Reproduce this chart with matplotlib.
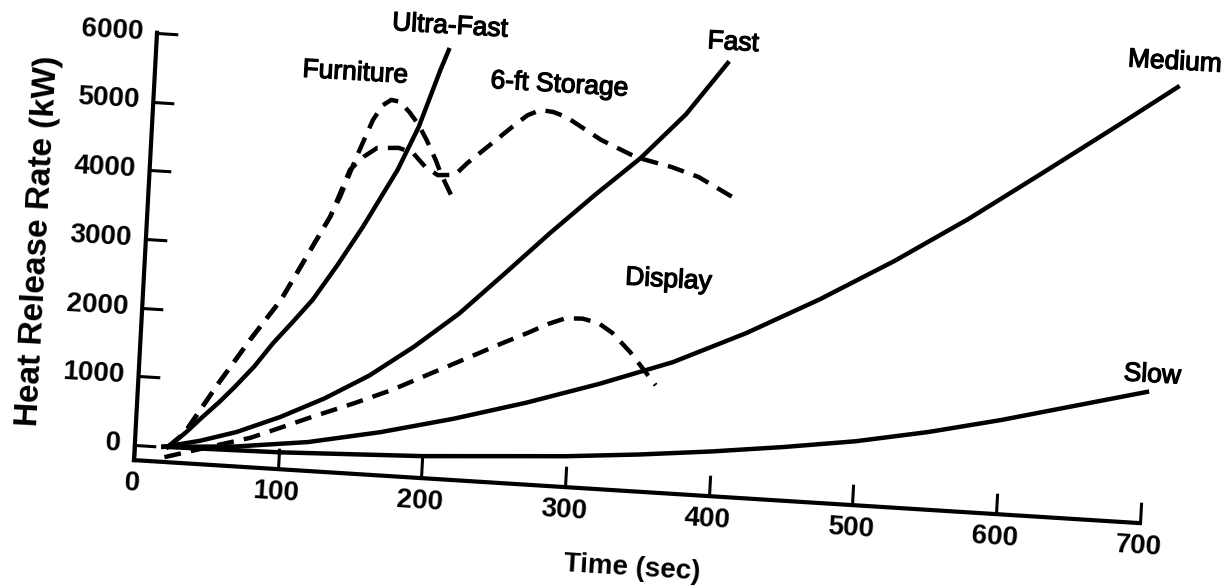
import numpy as np
import matplotlib
matplotlib.use("Agg")
import matplotlib.pyplot as plt
import matplotlib.patheffects as pe
from matplotlib.transforms import Affine2D
from mpl_toolkits.axisartist import floating_axes
from mpl_toolkits.axisartist.grid_finder import FixedLocator, DictFormatter

plt.rcParams['font.family'] = ['Liberation Sans', 'DejaVu Sans']

# t-squared design fires (solid lines)
ultra_t = [23, 35, 46, 57, 67, 80, 92, 105, 118, 134, 150, 161, 172, 185, 198, 203]
ultra_q = [0, 230, 470, 700, 930, 1250, 1600, 1930, 2270, 2800, 3370, 3800, 4230, 4870, 5720, 6015]
fast_t = [20, 45, 70, 100, 130, 160, 190, 220, 250, 280, 310, 340, 370, 397]
fast_q = [0, 120, 280, 540, 850, 1220, 1680, 2200, 2820, 3450, 4050, 4620, 5300, 6080]
medium_t = [20, 70, 120, 170, 220, 270, 320, 370, 420, 470, 520, 570, 620, 670, 710]
medium_q = [0, 70, 200, 410, 670, 970, 1310, 1690, 2180, 2740, 3360, 4040, 4780, 5530, 6140]
slow_t = [20, 100, 200, 300, 350, 400, 450, 500, 550, 600, 650, 700]
slow_q = [0, 25, 100, 230, 320, 430, 560, 710, 910, 1150, 1420, 1690]

# measured fuel packages (dashed lines)
furniture_t = [23, 34, 56, 76, 96, 127, 133, 143, 153, 159, 165, 171, 178, 185, 191, 198, 202, 208, 213]
furniture_q = [0, 220, 980, 1630, 2240, 3490, 3780, 4380, 4930, 5150, 5240, 5220, 5080, 4900, 4690,
               4410, 4220, 3990, 3800]
storage_t = [23, 34, 56, 76, 96, 127, 139, 148, 157, 172, 182, 191, 200, 212, 220, 239, 250, 260,
             269, 278, 287, 312, 337, 362, 381, 409]
storage_q = [0, 220, 980, 1630, 2240, 3490, 4190, 4390, 4530, 4550, 4490, 4300, 4190, 4210, 4390,
             4750, 4960, 5140, 5230, 5210, 5150, 4850, 4630, 4520, 4400, 4100]
display_t = [21, 42, 60, 80, 100, 122, 150, 176, 200, 229, 250, 268, 282, 294, 306, 317, 327, 340, 359]
display_q = [-150, -20, 90, 210, 380, 570, 800, 1030, 1280, 1580, 1800, 1980, 2130, 2230, 2240, 2190,
             2060, 1800, 1340]

x_ticks = [0, 100, 200, 300, 400, 500, 600, 700]
y_ticks = [0, 1000, 2000, 3000, 4000, 5000, 6000]

# curve names and where they sit (time, kW)
label_names = ['Ultra-Fast', 'Furniture', '6-ft Storage', 'Fast', 'Medium', 'Display', 'Slow']
label_t = [203, 139, 281, 400, 707, 364, 703]
label_q = [6360, 5600, 5610, 6380, 6500, 2880, 1940]

# the scan is slightly rotated: map (sec, kW) onto the page with a small tilt
tr = Affine2D(np.array([[1.437, 0.0037, 134.8],
                        [-0.090, 0.0687, 142.0],
                        [0.0, 0.0, 1.0]]))

grid_helper = floating_axes.GridHelperCurveLinear(
    tr, extremes=(0, 700, -220, 6000),
    grid_locator1=FixedLocator(x_ticks),
    tick_formatter1=DictFormatter({v: str(v) for v in x_ticks}),
    grid_locator2=FixedLocator(y_ticks),
    tick_formatter2=DictFormatter({v: str(v) for v in y_ticks}))

fig = plt.figure(figsize=(12.3, 5.87), dpi=100)
ax = fig.add_axes([0, 0, 1, 1], axes_class=floating_axes.FloatingAxes, grid_helper=grid_helper)
ax.set_xlim(0, 1230)
ax.set_ylim(0, 587)

for side in ("top", "right"):
    ax.axis[side].set_visible(False)
for side in ("left", "bottom"):
    art = ax.axis[side]
    art.line.set_linewidth(3)
    art.major_ticks.set_ticksize(15)
    art.major_ticks.set_markeredgewidth(2.2)
    art.major_ticklabels.set_fontsize(20)
    art.major_ticklabels.set_fontweight('bold')
    art.label.set_fontweight('bold')

ax.axis["left"].major_ticklabels.set_pad(10)
ax.axis["bottom"].major_ticklabels.set_pad(8)
ax.axis["left"].label.set_text("Heat Release Rate (kW)")
ax.axis["left"].label.set_fontsize(24)
ax.axis["left"].label.set_pad(11)
ax.axis["bottom"].label.set_text("Time (sec)")
ax.axis["bottom"].label.set_fontsize(20)
ax.axis["bottom"].label.set_pad(24)

aux = ax.get_aux_axes(tr)
for t, q in [(ultra_t, ultra_q), (fast_t, fast_q), (medium_t, medium_q), (slow_t, slow_q)]:
    aux.plot(t, q, color='black', lw=3.2, clip_on=False)
for t, q in [(furniture_t, furniture_q), (storage_t, storage_q), (display_t, display_q)]:
    aux.plot(t, q, color='black', lw=3.2, dashes=(3.8, 2.3), clip_on=False)

# scanned lettering is a bit heavier than the plain regular face
ink = [pe.withStroke(linewidth=0.9, foreground='black')]
for name, t, q in zip(label_names, label_t, label_q):
    aux.text(t, q, name, ha='center', va='center', fontsize=19, rotation=-3.3, path_effects=ink)

fig.savefig("out.png", dpi=100)
